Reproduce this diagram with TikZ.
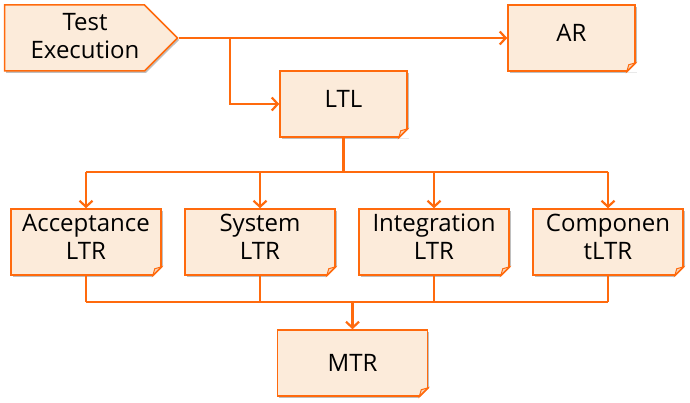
\documentclass[tikz,border=0pt]{standalone}
\usepackage{fontspec}
\setmainfont{Open Sans}
\usetikzlibrary{shapes.symbols, arrows.meta, shadows}
\definecolor{tcorange}{RGB}{255,106,13}
\definecolor{tcfill}{RGB}{252,235,218}
\definecolor{tcfold}{RGB}{246,214,186}
\tikzset{
  memo/.style={draw=tcorange, line width=1.5pt, fill=tcfill, align=center,
    minimum width=127pt, minimum height=66pt, inner sep=2pt,
    font=\fontsize{24}{28}\selectfont,
    drop shadow={shadow xshift=1.5pt, shadow yshift=-2pt, opacity=0.25, fill=black}},
  wide/.style={minimum width=150pt},
  lifted/.style={execute at end node={\rule[-10pt]{0pt}{0pt}}},
  caption/.style={align=center, inner sep=0pt, font=\fontsize{24}{28}\selectfont},
  link/.style={draw=tcorange, line width=2.4pt},
  flow/.style={link, -{Straight Barb[length=6pt, width=13pt, line width=2.2pt]}}
}
\begin{document}
\begin{tikzpicture}[x=1pt, y=-1pt]
  \useasboundingbox (0, 0) rectangle (690, 403);

  % Boxes
  \node [memo, signal, signal to=east, signal pointer angle=90,
         minimum width=173pt] (texec) at (74.5, 38) {};
  \node [caption] (texec text) at (85, 36) {Test\\Execution};
  \node [memo, lifted] (ar)  at (571.5, 38)  {AR};
  \node [memo, lifted] (ltl) at (343.5, 104) {LTL};

  \node [memo, wide, lifted] (acc)   at (86, 242)  {Acceptance\\LTR};
  \node [memo, wide, lifted] (sys)   at (260, 242) {System\\LTR};
  \node [memo, wide, lifted] (integ) at (434, 242) {Integration\\LTR};
  \node [memo, wide, lifted] (comp)  at (608, 242) {Componen\\tLTR};

  \node [memo, wide] (mtr) at (352.5, 363) {MTR};

  % Folded corners
  \foreach \n in {ar, ltl, acc, sys, integ, comp, mtr} {
    \fill [white] ([xshift=-10pt, yshift=-1pt]\n.south east) -- ([xshift=1pt, yshift=-1pt]\n.south east)
      -- ([xshift=1pt, yshift=10pt]\n.south east) -- cycle;
    \filldraw [draw=tcorange, fill=tcfold, line width=1pt]
      ([xshift=-9pt]\n.south east) -- ([yshift=9pt]\n.south east)
      -- ([xshift=-7pt, yshift=7pt]\n.south east) -- cycle;
    \draw [tcorange, line width=1.5pt, line cap=round]
      ([xshift=-9pt]\n.south east) -- ([yshift=9pt]\n.south east);
  }

  % Test execution outputs
  \coordinate (split) at (230, 38);
  \draw [flow] (texec.east) -- (ar.west);
  \draw [flow] (split) |- (ltl.west);

  % LTL to the level reports
  \coordinate (top bus) at (344, 172);
  \draw [link] (ltl.south) -- (ltl.south |- top bus);
  \draw [link] (acc.north |- top bus) -- (comp.north |- top bus);
  \foreach \n in {acc, sys, integ, comp}
    \draw [flow] (\n.north |- top bus) -- (\n.north);

  % Level reports to MTR
  \coordinate (low bus) at (352, 302);
  \foreach \n in {acc, sys, integ, comp}
    \draw [link] (\n.south) -- (\n.south |- low bus);
  \draw [link] (acc.south |- low bus) -- (comp.south |- low bus);
  \draw [flow] (mtr.north |- low bus) -- (mtr.north);

\end{tikzpicture}
\end{document}
